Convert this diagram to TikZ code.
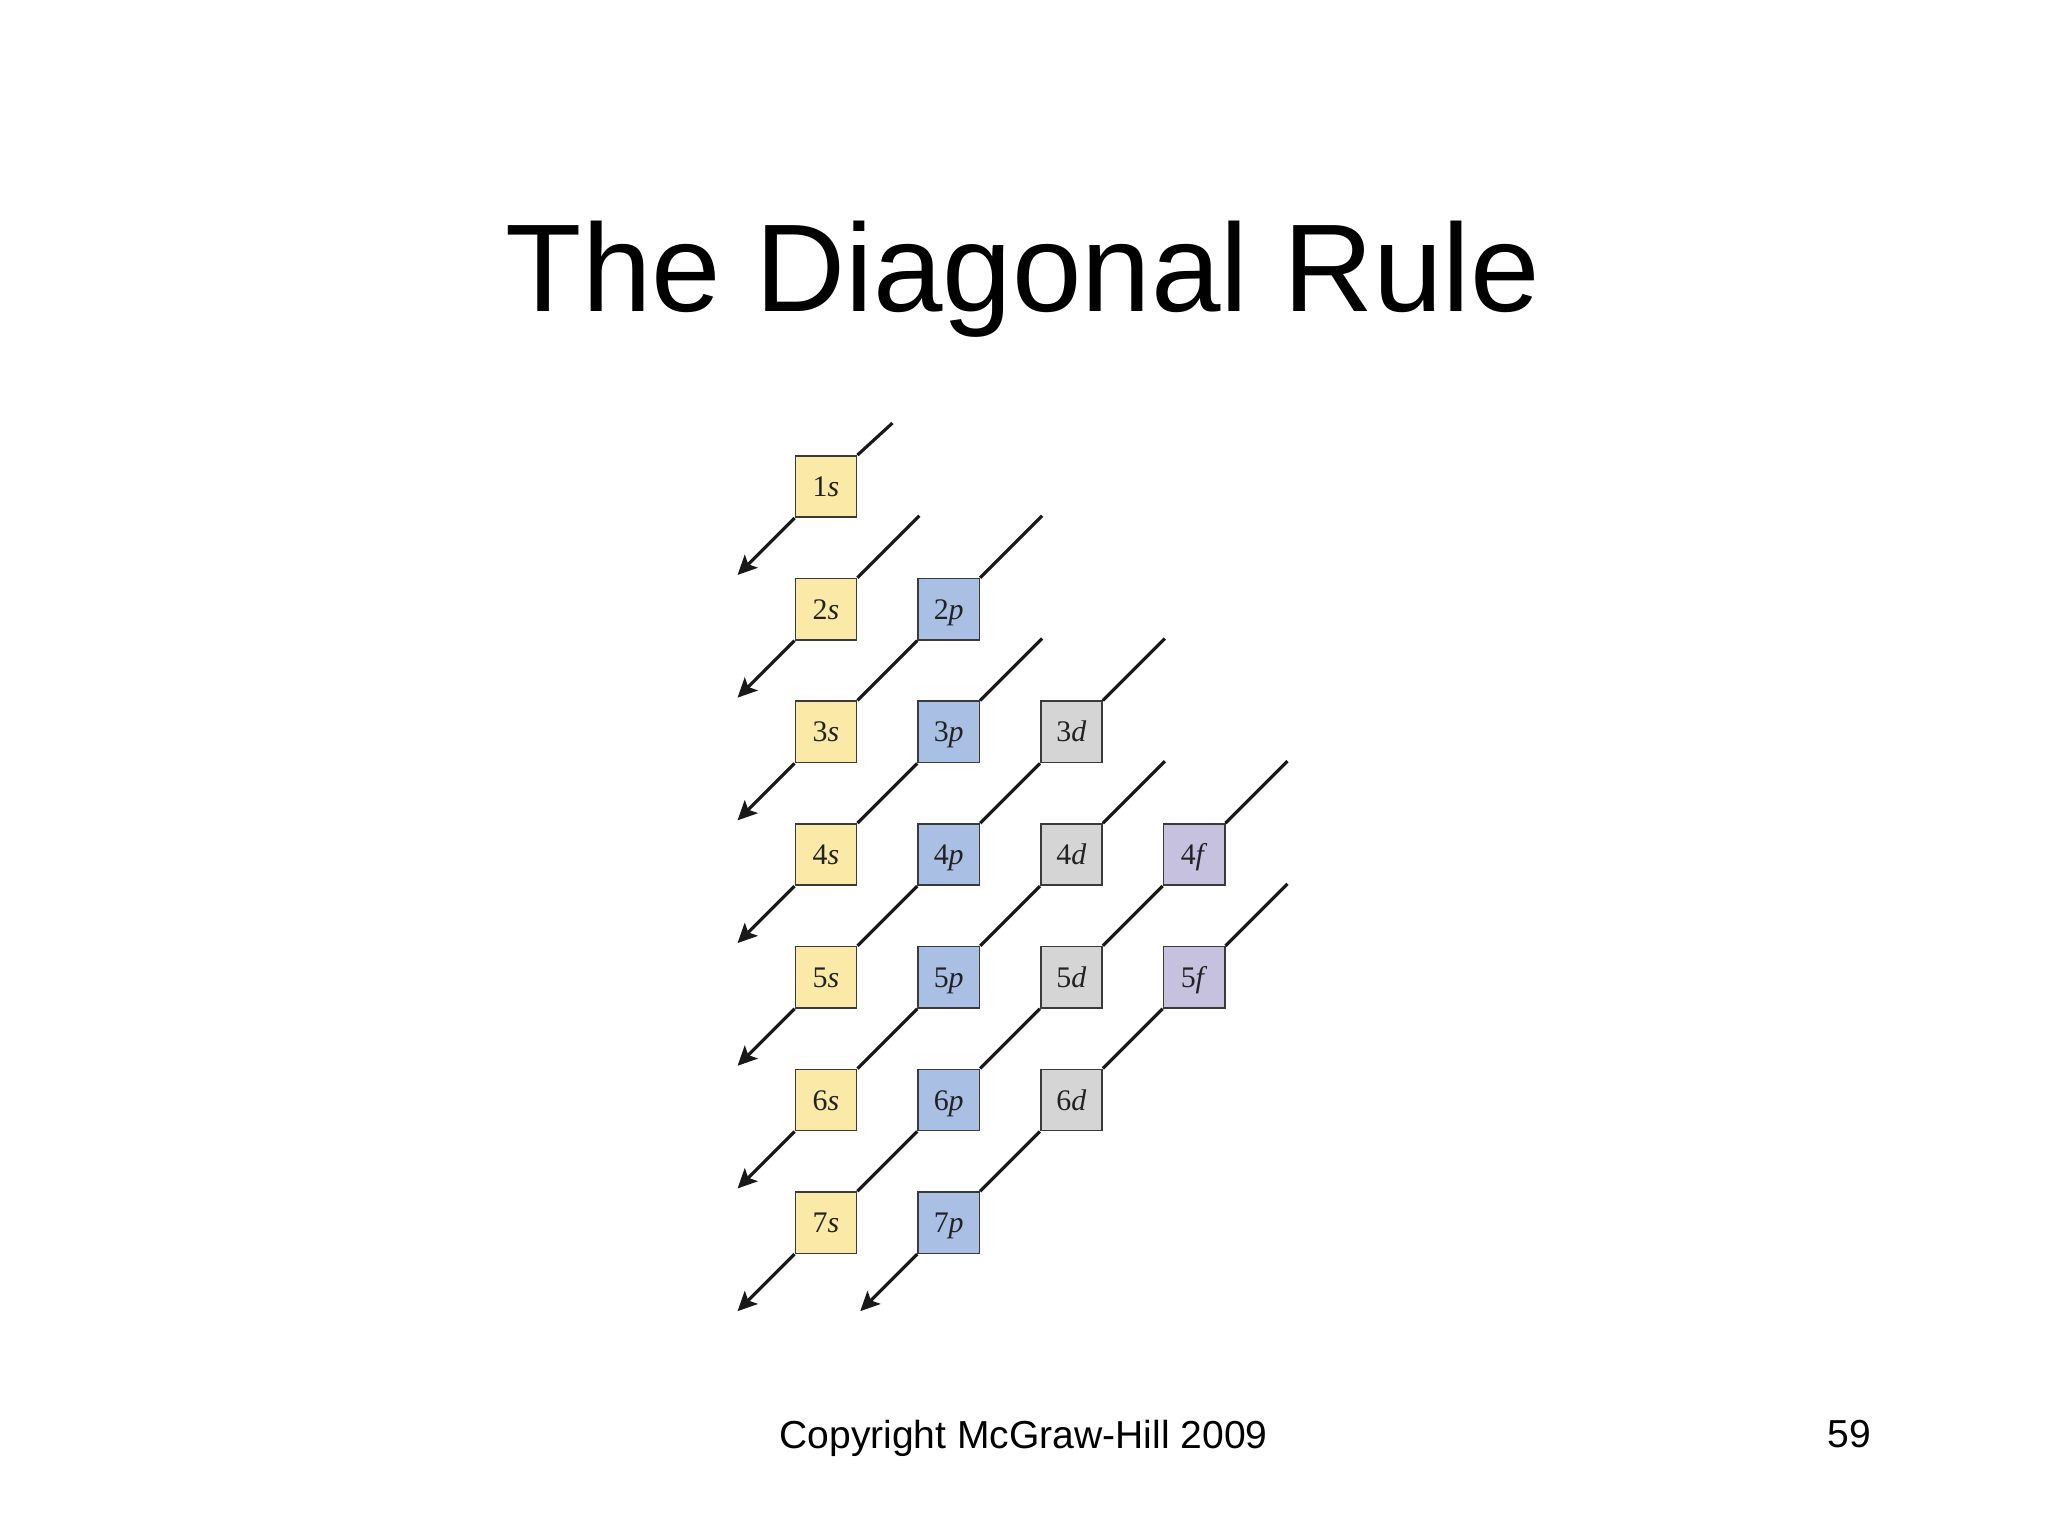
\documentclass[tikz,border=0pt]{standalone}
\usepackage{fontspec}
\setmainfont{Liberation Serif}
\newfontfamily\arialfont{Liberation Sans}
\usetikzlibrary{arrows.meta}
\definecolor{syel}{HTML}{FBE9A8}
\definecolor{pblue}{HTML}{A9C0E4}
\definecolor{dgray}{HTML}{D5D5D5}
\definecolor{flav}{HTML}{C6C1DF}
\definecolor{edgec}{HTML}{3A3A3A}
\definecolor{txtc}{HTML}{222222}
\tikzset{
  orb/.style={draw=edgec, line width=0.45pt, inner sep=0pt,
    minimum width=0.613cm, minimum height=0.613cm,
    text height=5.7pt, text depth=0pt,
    font=\fontsize{8.5pt}{9pt}\selectfont, text=txtc},
  sorb/.style={orb, fill=syel},
  porb/.style={orb, fill=pblue},
  dorb/.style={orb, fill=dgray},
  forb/.style={orb, fill=flav},
  diag/.style={line width=0.9pt, color=black!90},
  diagarrow/.style={diag, -{Stealth[length=5.5pt,width=5.2pt,inset=1.2pt]}},
  slidetext/.style={inner sep=0pt, font=\arialfont\fontsize{11.1pt}{13pt}\selectfont},
}
\begin{document}
\begin{tikzpicture}[x=0.01cm,y=-0.01cm]
\fill[white] (0,0) rectangle (2048,1536);
\useasboundingbox (0,0) rectangle (2048,1536);
% title and footer
\node[anchor=base, inner sep=0pt, font=\arialfont\fontsize{35.5pt}{40pt}\selectfont] (title) at (1023,311) {The Diagonal Rule};
\node[anchor=base, slidetext] (copy) at (1023.5,1448) {Copyright McGraw-Hill 2009};
\node[anchor=base east, slidetext] (pagenum) at (1872,1447) {59};
% orbitals
\foreach \n in {1,...,7} {
  \node[sorb] (\n s) at (826, {486.5+122.7*(\n-1)}) {\n\textit{s}};
}
\foreach \n in {2,...,7} {
  \node[porb] (\n p) at (948.7, {486.5+122.7*(\n-1)}) {\n\textit{p}};
}
\foreach \n in {3,...,6} {
  \node[dorb] (\n d) at (1071.4, {486.5+122.7*(\n-1)}) {\n\textit{d}};
}
\foreach \n in {4,5} {
  \node[forb] (\n f) at (1194.1, {486.5+122.7*(\n-1)}) {\n\textit{f}};
}
% stubs at top of each diagonal
\draw[diag] (1s.north east) -- ++(35,-32);
\foreach \b in {2s,2p,3p,3d,4d,4f,5f} {
  \draw[diag] (\b.north east) -- ++(62,-62);
}
% connecting diagonals
\draw[diag] (2p.south west) -- (3s.north east);
\draw[diag] (3p.south west) -- (4s.north east);
\draw[diag] (3d.south west) -- (4p.north east);
\draw[diag] (4p.south west) -- (5s.north east);
\draw[diag] (4d.south west) -- (5p.north east);
\draw[diag] (5p.south west) -- (6s.north east);
\draw[diag] (4f.south west) -- (5d.north east);
\draw[diag] (5d.south west) -- (6p.north east);
\draw[diag] (6p.south west) -- (7s.north east);
\draw[diag] (5f.south west) -- (6d.north east);
\draw[diag] (6d.south west) -- (7p.north east);
% arrows
\foreach \b in {1s,2s,3s,4s,5s,6s,7s,7p} {
  \draw[diagarrow] (\b.south west) -- ++(-57,57);
}
\end{tikzpicture}
\end{document}
